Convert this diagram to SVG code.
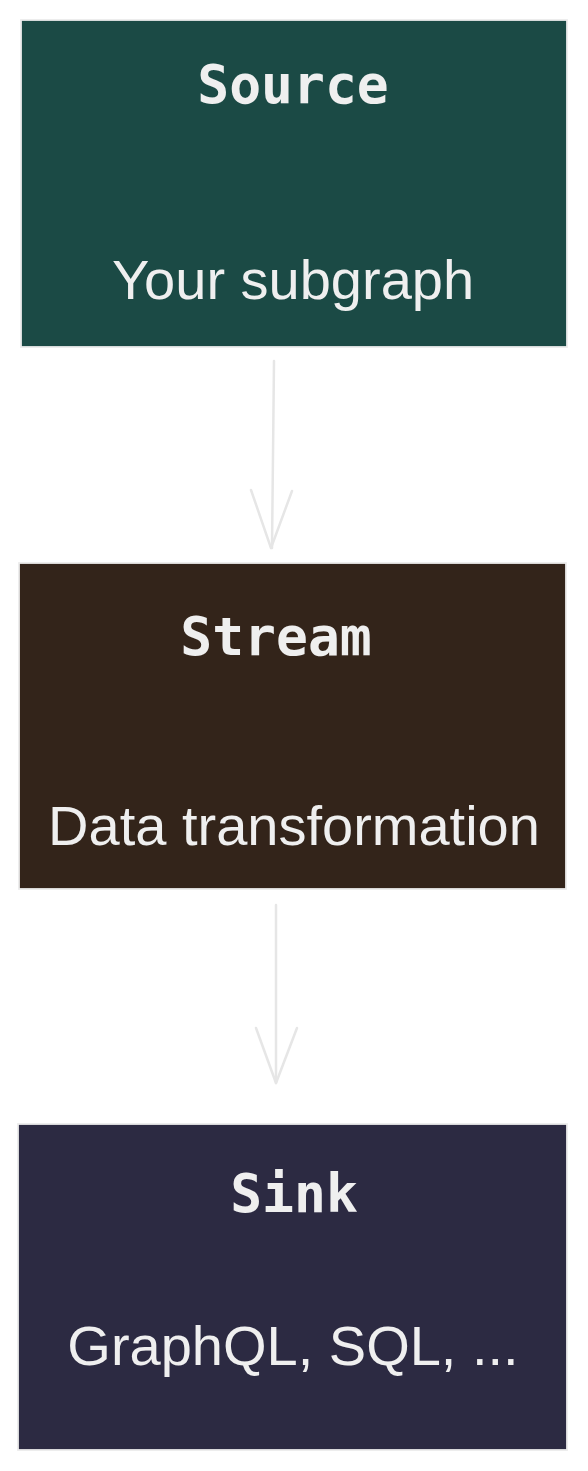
<svg xmlns="http://www.w3.org/2000/svg" width="588" height="1471" viewBox="0 0 588 1471">
<style>
.box{stroke:#ececec;stroke-width:1.8;}
.title{font-family:"DejaVu Sans Mono","Liberation Mono",monospace;font-weight:bold;font-size:53px;fill:#efefef;text-anchor:middle;}
.sub{font-family:"Liberation Sans",Arial,sans-serif;font-size:56px;fill:#efefef;text-anchor:middle;}
.edge{fill:none;stroke:#e6e6e6;stroke-width:2.5;stroke-linecap:round;stroke-linejoin:round;}
</style>
<rect width="588" height="1471" fill="#ffffff"/>
<g id="source">
<rect class="box" x="21" y="20" width="546" height="327" fill="#1b4a45"/>
<text class="title" x="293" y="103">Source</text>
<text class="sub" x="293" y="299">Your subgraph</text>
</g>
<g id="stream">
<rect class="box" x="19" y="563" width="547" height="326" fill="#33241a"/>
<text class="title" x="276" y="655">Stream</text>
<text class="sub" x="294" y="845">Data transformation</text>
</g>
<g id="sink">
<rect class="box" x="18" y="1124" width="549" height="326" fill="#2c2a42"/>
<text class="title" x="294" y="1212">Sink</text>
<text class="sub" x="293" y="1365">GraphQL, SQL, ...</text>
</g>
<g id="connectors">
<path class="edge" d="M274 361 L272 548"/>
<path class="edge" d="M251 490 L271 548 L292 491"/>
<path class="edge" d="M276 905 L276 1083"/>
<path class="edge" d="M256 1028 L276 1083 L297 1028"/>
</g>
</svg>
